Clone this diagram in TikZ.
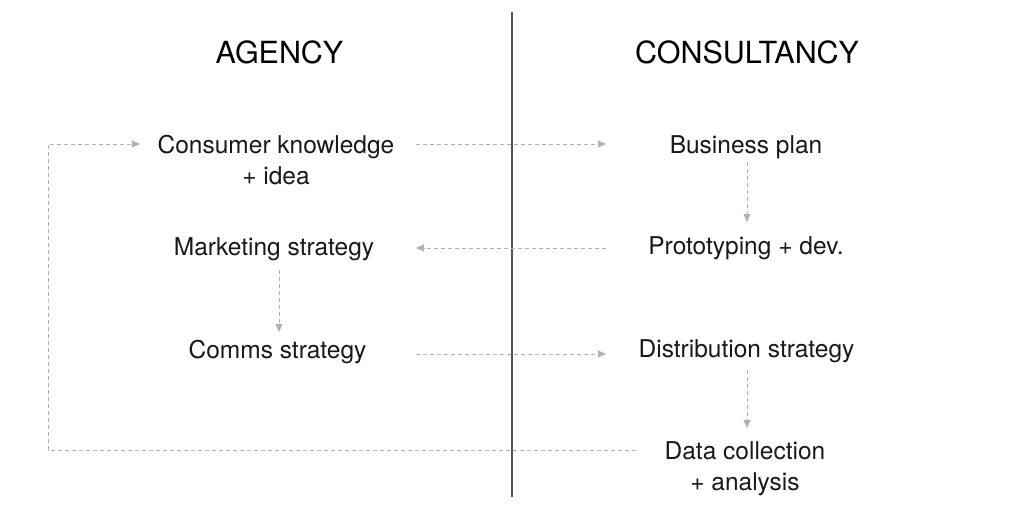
\documentclass[tikz,border=0pt]{standalone}
\usepackage{fontspec}
\setmainfont{TeX Gyre Heros}
\usetikzlibrary{arrows.meta,calc}
\definecolor{conngray}{RGB}{178,178,178}
\definecolor{divgray}{RGB}{85,85,85}
\definecolor{txt}{RGB}{25,25,25}
\begin{document}
\begin{tikzpicture}[x=1pt,y=-1pt,
  lbl/.style={font=\fontsize{24.5}{31}\selectfont, text=txt, inner sep=0pt, anchor=base},
  ttl/.style={font=\fontsize{30.5}{36}\selectfont, text=black, inner sep=0pt, anchor=base},
  conn/.style={draw=conngray, line width=0.9pt, dash pattern=on 4pt off 3pt,
    -{Triangle[length=8pt,width=7pt,fill=conngray]}},
  divider/.style={draw=divgray, line width=1.4pt}]
\useasboundingbox (0,0) rectangle (1024,530);
\fill[white] (0,0) rectangle (1024,530);

% titles
\node[ttl] (agency) at (279.5,63) {AGENCY};
\node[ttl] (consult) at (747,63) {CONSULTANCY};

% divider
\coordinate (dtop) at (512,12);
\coordinate (dbot) at (512,497);
\draw[divider] (dtop) -- (dbot);

% left column
\node[lbl] (ck) at (276,153) {\begin{tabular}[t]{@{}c@{}}Consumer knowledge\\+ idea\end{tabular}};
\node[lbl] (ms) at (274,255) {Marketing strategy};
\node[lbl] (cs) at (277.5,358) {Comms strategy};

% right column
\node[lbl] (bp) at (746,153) {Business plan};
\node[lbl] (pd) at (746,254) {Prototyping + dev.};
\node[lbl] (ds) at (746.5,357) {Distribution strategy};
\node[lbl] (dc) at (745,459) {\begin{tabular}[t]{@{}c@{}}Data collection\\+ analysis\end{tabular}};

% guide coordinates
\coordinate (L) at (416,0);
\coordinate (R) at (606,0);
\coordinate (S) at (636,0);
\coordinate (E) at (140,0);
\coordinate (Lp) at (48,300);

% horizontal connectors
\draw[conn] ($(ck.base -| L)+(0,-9)$) -- ($(bp.base -| R)+(0,-9)$);
\draw[conn] ($(pd.base -| R)+(0,-6)$) -- ($(ms.base -| L)+(0,-7)$);
\draw[conn] ($(cs.base -| L)+(0,-4)$) -- ($(ds.base -| R)+(0,-3)$);

% vertical connectors
\draw[conn] ($(bp.base)+(1,9)$) -- ($(pd.base)+(1,-32)$);
\draw[conn] ($(ms.base)+(5,15)$) -- ($(cs.base)+(1.5,-26)$);
\draw[conn] ($(ds.base)+(0.5,13)$) -- ($(dc.base)+(2,-31)$);

% feedback loop
\draw[conn] ($(dc.base -| S)+(0,-9)$) -| (Lp) |- ($(ck.base -| E)+(0,-9)$);
\end{tikzpicture}
\end{document}
